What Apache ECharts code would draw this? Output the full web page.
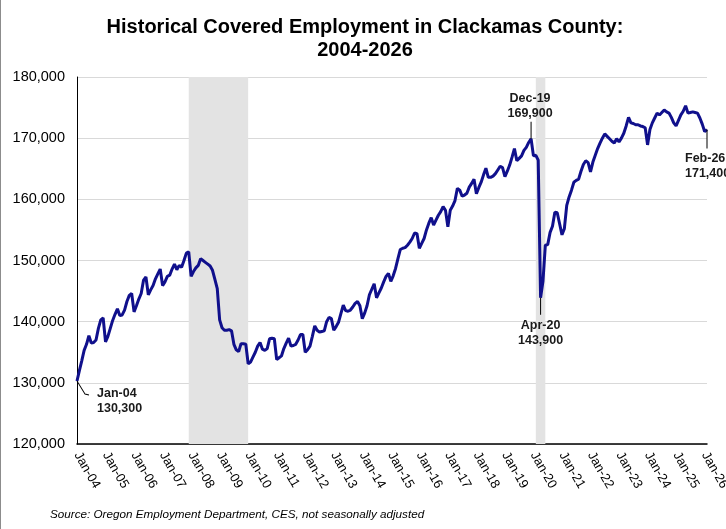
<!DOCTYPE html>
<html>
<head>
<meta charset="utf-8">
<title>Historical Covered Employment in Clackamas County</title>
<script src="https://cdn.jsdelivr.net/npm/echarts@6/dist/echarts.min.js"></script>
<style>
  html, body { margin: 0; padding: 0; background: #fff; }
  .frame { width: 726px; height: 529px; box-sizing: border-box; border-left: 1px solid #8c8c8c; }
  #employment { width: 725px; height: 529px; }
</style>
</head>
<body>
<div class="frame"><div id="employment"></div></div>
<script>
// monthly covered employment, Jan-04 .. Feb-26
const y2004 = [130300, 132000, 133600, 135300, 136300, 137700, 136500, 136600, 137000, 138900, 140300, 140600];
const y2005 = [136700, 137600, 138900, 140200, 141200, 142100, 141000, 141100, 141900, 143300, 144300, 144600];
const y2006 = [141600, 142600, 143700, 144600, 146800, 147300, 144400, 145200, 145900, 147000, 147800, 148600];
const y2007 = [145900, 146500, 147400, 147600, 148600, 149400, 148500, 149200, 148900, 150000, 151200, 151400];
const y2008 = [147400, 148200, 148800, 149200, 150300, 150000, 149700, 149400, 149100, 148400, 146900, 145400];
const y2009 = [140300, 139000, 138600, 138600, 138700, 138500, 136300, 135400, 135100, 136400, 136400, 136300];
const y2010 = [133100, 133400, 134200, 135000, 136000, 136600, 135500, 135300, 135600, 137200, 137300, 137200];
const y2011 = [133800, 134100, 134400, 135600, 136500, 137300, 136000, 136100, 136300, 137000, 137900, 137900];
const y2012 = [135000, 135400, 136000, 137600, 139300, 138600, 138300, 138400, 138500, 140000, 140700, 140500];
const y2013 = [138600, 139200, 139900, 141300, 142700, 141800, 141700, 141900, 142400, 143000, 143300, 142600];
const y2014 = [140500, 141400, 142600, 144400, 145300, 146200, 143900, 144700, 145500, 146500, 147400, 147900];
const y2015 = [146600, 147500, 148700, 150300, 151800, 152000, 152100, 152500, 153000, 153600, 154500, 154400];
const y2016 = [152000, 152800, 153600, 155000, 156100, 157000, 155800, 156600, 157400, 158000, 158800, 158200];
const y2017 = [155500, 158200, 158900, 159800, 161800, 161500, 160500, 160700, 161000, 162000, 162600, 163300];
const y2018 = [160900, 161900, 162800, 164000, 165100, 163600, 163600, 163800, 164200, 164800, 165400, 165200];
const y2019 = [163700, 164600, 165600, 166900, 168300, 166300, 166700, 167100, 168000, 168500, 169300, 169900];
const y2020 = [167100, 167200, 166400, 143900, 146600, 152500, 152600, 154600, 155600, 157900, 157800, 156000];
const y2021 = [154200, 155200, 159000, 160400, 161500, 162800, 163100, 163300, 164600, 165700, 166300, 166000];
const y2022 = [164500, 166100, 167200, 168300, 169200, 170000, 170700, 170300, 169900, 169500, 169200, 169900];
const y2023 = [169400, 170000, 170800, 172000, 173400, 172500, 172400, 172200, 172200, 172000, 171900, 171700];
const y2024 = [168900, 171400, 172500, 173300, 174100, 173800, 174200, 174600, 174300, 174100, 173400, 172500];
const y2025 = [172000, 172900, 173800, 174400, 175300, 174100, 174200, 174300, 174200, 174100, 173300, 172300];
const y2026 = [171100, 171400];

const monthNames = ['Jan', 'Feb', 'Mar', 'Apr', 'May', 'Jun', 'Jul', 'Aug', 'Sep', 'Oct', 'Nov', 'Dec'];
const years = ['04', '05', '06', '07', '08', '09', '10', '11', '12', '13', '14', '15',
               '16', '17', '18', '19', '20', '21', '22', '23', '24', '25', '26'];
const yTicks = [120000, 130000, 140000, 150000, 160000, 170000, 180000];

// recession shading (start month, end month)
const recessions = [['Dec-07', 'Jan-10'], ['Feb-20', 'Jun-20']];
// called-out points
const callouts = [['Jan-04', 130300], ['Dec-19', 169900], ['Apr-20', 143900], ['Feb-26', 171400]];

const employment = [].concat(y2004, y2005, y2006, y2007, y2008, y2009, y2010, y2011,
  y2012, y2013, y2014, y2015, y2016, y2017, y2018, y2019, y2020, y2021, y2022,
  y2023, y2024, y2025, y2026);

const months = [];
years.forEach(yy => monthNames.forEach(m => months.push(m + '-' + yy)));
months.length = employment.length;

const FONT = '"Liberation Sans", Arial, sans-serif';
const fmt = v => v.toLocaleString('en-US');

// leader line + text placement for each call-out
const calloutLook = {
  'Jan-04': { symbol: 'path://M0,0L8,13L12,14', size: [12, 14], shift: [6, 7], text: [20, 20], align: 'left' },
  'Dec-19': { symbol: 'rect', size: [1, 17], shift: [0, -8.5], text: [-1, -33], align: 'center' },
  'Apr-20': { symbol: 'rect', size: [1, 17], shift: [0, 8.5], text: [0, 35], align: 'center' },
  'Feb-26': { symbol: 'rect', size: [1, 19], shift: [0, 9.5], text: [-22, 36], align: 'left' }
};

const markPoints = [];
callouts.forEach(([month, value]) => {
  const look = calloutLook[month];
  const isPath = look.symbol.indexOf('path://') === 0;
  markPoints.push({
    coord: [month, value],
    symbol: look.symbol,
    symbolSize: look.size,
    symbolOffset: look.shift,
    itemStyle: isPath
      ? { color: 'rgba(0,0,0,0)', borderColor: '#000', borderWidth: 1 }
      : { color: '#000' },
    label: { show: false }
  });
  markPoints.push({
    coord: [month, value],
    symbol: 'circle',
    symbolSize: 1,
    itemStyle: { color: 'rgba(0,0,0,0)' },
    label: {
      show: true,
      position: 'inside',
      offset: look.text,
      align: look.align,
      verticalAlign: 'middle',
      formatter: month + '\n' + fmt(value),
      fontFamily: FONT,
      fontWeight: 'bold',
      fontSize: 12.5,
      lineHeight: 15,
      color: '#1a1a1a'
    }
  });
});

const chart = echarts.init(document.getElementById('employment'));
chart.setOption({
  animation: false,
  title: [
    {
      text: 'Historical Covered Employment in Clackamas County:\n2004-2026',
      left: 364,
      top: 16,
      padding: 0,
      textAlign: 'center',
      textStyle: { fontFamily: FONT, fontWeight: 'bold', fontSize: 20, lineHeight: 23, color: '#000' }
    },
    {
      text: 'Source: Oregon Employment Department, CES, not seasonally adjusted',
      left: 49,
      top: 509,
      padding: 0,
      textStyle: { fontFamily: FONT, fontStyle: 'italic', fontWeight: 'normal', fontSize: 11.7, color: '#000' }
    }
  ],
  grid: {
    left: 76,
    right: 19,
    top: 77,
    bottom: 85,
    containLabel: false,
    outerBoundsMode: 'none'
  },
  xAxis: {
    type: 'category',
    data: months,
    boundaryGap: false,
    axisLine: { lineStyle: { color: '#000', width: 1.5 } },
    axisTick: { show: false },
    splitLine: { show: false },
    axisLabel: {
      interval: (i, v) => v.indexOf('Jan') === 0,
      rotate: -60,
      margin: 9,
      fontFamily: FONT,
      fontSize: 13,
      color: '#000',
      hideOverlap: false
    }
  },
  yAxis: {
    type: 'value',
    min: yTicks[0],
    max: yTicks[yTicks.length - 1],
    interval: 10000,
    axisLine: { show: true, lineStyle: { color: '#000', width: 1 } },
    axisTick: { show: false },
    splitLine: { lineStyle: { color: '#d9d9d9', width: 1 } },
    axisLabel: {
      formatter: fmt,
      margin: 12,
      fontFamily: FONT,
      fontSize: 14.5,
      color: '#000'
    }
  },
  series: [
    {
      type: 'line',
      data: employment,
      symbol: 'none',
      lineStyle: { color: '#10108c', width: 3 },
      silent: true,
      markArea: {
        silent: true,
        itemStyle: { color: '#e3e3e3' },
        data: recessions.map(([a, b]) => [{ xAxis: a }, { xAxis: b }])
      },
      markPoint: {
        silent: true,
        animation: false,
        data: markPoints
      }
    }
  ]
});
</script>
</body>
</html>
